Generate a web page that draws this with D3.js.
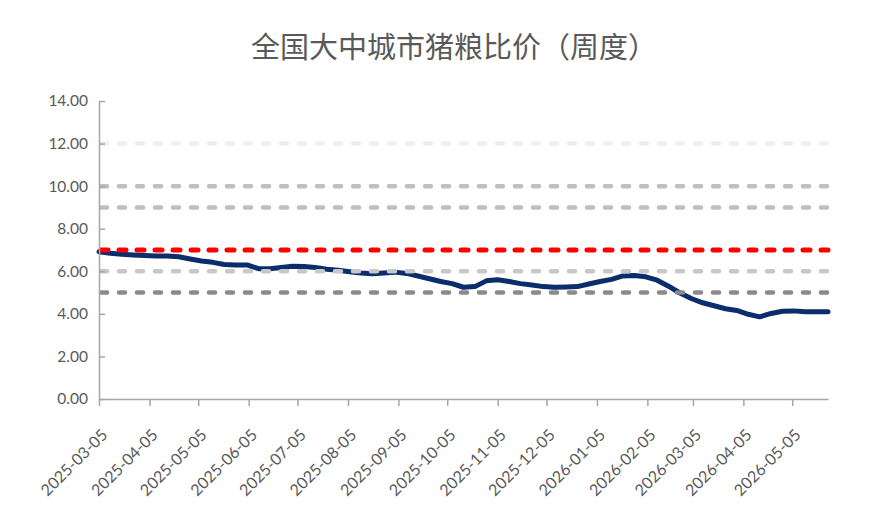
<!DOCTYPE html>
<html>
<head>
<meta charset="utf-8">
<script src="https://cdn.jsdelivr.net/npm/d3@7"></script>
<style>
  html, body { margin: 0; padding: 0; background: #ffffff; }
  svg { display: block; }
</style>
</head>
<body>
<svg id="chart" width="885" height="505"></svg>
<script>
const title = "全国大中城市猪粮比价（周度）";

const dates = [
  "2025-03-05","2025-03-12","2025-03-19","2025-03-26",
  "2025-04-02","2025-04-09","2025-04-16","2025-04-23","2025-04-30",
  "2025-05-07","2025-05-14","2025-05-21","2025-05-28",
  "2025-06-04","2025-06-11","2025-06-18","2025-06-25",
  "2025-07-02","2025-07-09","2025-07-16","2025-07-23","2025-07-30",
  "2025-08-06","2025-08-13","2025-08-20","2025-08-27",
  "2025-09-03","2025-09-10","2025-09-17","2025-09-24",
  "2025-10-01","2025-10-08","2025-10-15","2025-10-22","2025-10-29",
  "2025-11-05","2025-11-12","2025-11-19","2025-11-26",
  "2025-12-03","2025-12-10","2025-12-17","2025-12-24","2025-12-31",
  "2026-01-07","2026-01-14","2026-01-21","2026-01-28",
  "2026-02-04","2026-02-11","2026-02-18","2026-02-25",
  "2026-03-04","2026-03-11","2026-03-18","2026-03-25",
  "2026-04-01","2026-04-08","2026-04-15","2026-04-22","2026-04-29",
  "2026-05-06","2026-05-13","2026-05-20","2026-05-27"
];

const ratio = [
  6.92, 6.85, 6.80, 6.77,
  6.74, 6.72, 6.72, 6.68, 6.58,
  6.48, 6.42, 6.32, 6.30,
  6.30, 6.12, 6.12, 6.18,
  6.24, 6.22, 6.18, 6.10, 6.05,
  5.98, 5.92, 5.88, 5.92,
  5.96, 5.90, 5.78, 5.65,
  5.52, 5.42, 5.25, 5.28, 5.55,
  5.60, 5.52, 5.42, 5.36,
  5.28, 5.25, 5.26, 5.28, 5.40,
  5.52, 5.62, 5.78, 5.80,
  5.74, 5.58, 5.30, 4.98,
  4.72, 4.52, 4.38, 4.24,
  4.16, 3.98, 3.86, 4.02, 4.12,
  4.14, 4.10, 4.10, 4.10
];

const refValues = [12, 10, 9, 7, 6, 5];
const refColors = ["#eeeeee", "#bfbfbf", "#bfbfbf", "#ff0000", "#c8c8c8", "#8a8a8a"];

const yTicks = [0, 2, 4, 6, 8, 10, 12, 14];
const xTickLabels = [
  "2025-03-05","2025-04-05","2025-05-05","2025-06-05","2025-07-05",
  "2025-08-05","2025-09-05","2025-10-05","2025-11-05","2025-12-05",
  "2026-01-05","2026-02-05","2026-03-05","2026-04-05","2026-05-05"
];

const parse = d3.timeParse("%Y-%m-%d");
const svg = d3.select("#chart");

const x = d3.scaleTime()
  .domain([parse(dates[0]), parse(dates[dates.length - 1])])
  .range([99, 828]);
const y = d3.scaleLinear().domain([0, 14]).range([399, 101]);

const textColor = "#595959";
const axisColor = "#a6a6a6";
const numFont = "Lato, 'Open Sans', sans-serif";

// title
svg.append("text")
  .attr("x", 454).attr("y", 58)
  .attr("text-anchor", "middle")
  .attr("font-family", "'Noto Sans CJK SC', sans-serif")
  .attr("font-weight", 400)
  .attr("font-size", 29)
  .attr("fill", textColor)
  .text(title);

// data line
const line = d3.line()
  .x((d, i) => x(parse(dates[i])))
  .y(d => y(d));

svg.append("path")
  .datum(ratio)
  .attr("d", line)
  .attr("fill", "none")
  .attr("stroke", "#0b2d6b")
  .attr("stroke-width", 5)
  .attr("stroke-linejoin", "round")
  .attr("stroke-linecap", "round");

// reference dashed lines (drawn on top)
refValues.forEach((v, i) => {
  const red = refColors[i] === "#ff0000";
  svg.append("line")
    .attr("x1", x.range()[0] + 2).attr("x2", x.range()[1])
    .attr("y1", y(v)).attr("y2", y(v))
    .attr("stroke", refColors[i])
    .attr("stroke-width", red ? 5 : 4.5)
    .attr("stroke-linecap", "round")
    .attr("stroke-dasharray", red ? "7,11" : "6,12");
});

// y axis
const yAxis = svg.append("g")
  .attr("transform", "translate(99,0)")
  .call(d3.axisLeft(y)
    .tickValues(yTicks)
    .tickFormat(d3.format(".2f"))
    .tickSizeInner(-6)
    .tickSizeOuter(0)
    .tickPadding(11));
yAxis.select(".domain").attr("stroke", axisColor).attr("stroke-width", 1.5);
yAxis.selectAll(".tick line").attr("stroke", axisColor).attr("stroke-width", 1.5);
yAxis.selectAll(".tick text")
  .attr("fill", textColor)
  .attr("font-family", numFont)
  .attr("font-size", 15.5);

// x axis
const xAxis = svg.append("g")
  .attr("transform", "translate(0,399)")
  .call(d3.axisBottom(x)
    .tickValues(xTickLabels.map(parse))
    .tickFormat((d, i) => xTickLabels[i])
    .tickSizeInner(7)
    .tickSizeOuter(0));
xAxis.select(".domain").attr("stroke", axisColor).attr("stroke-width", 1.5);
xAxis.selectAll(".tick line").attr("stroke", axisColor).attr("stroke-width", 1.5);
xAxis.selectAll(".tick text")
  .attr("fill", textColor)
  .attr("font-family", numFont)
  .attr("font-size", 16)
  .attr("text-anchor", "end")
  .attr("dy", null)
  .attr("y", null)
  .attr("transform", "translate(9,37) rotate(-45)");
</script>
</body>
</html>
